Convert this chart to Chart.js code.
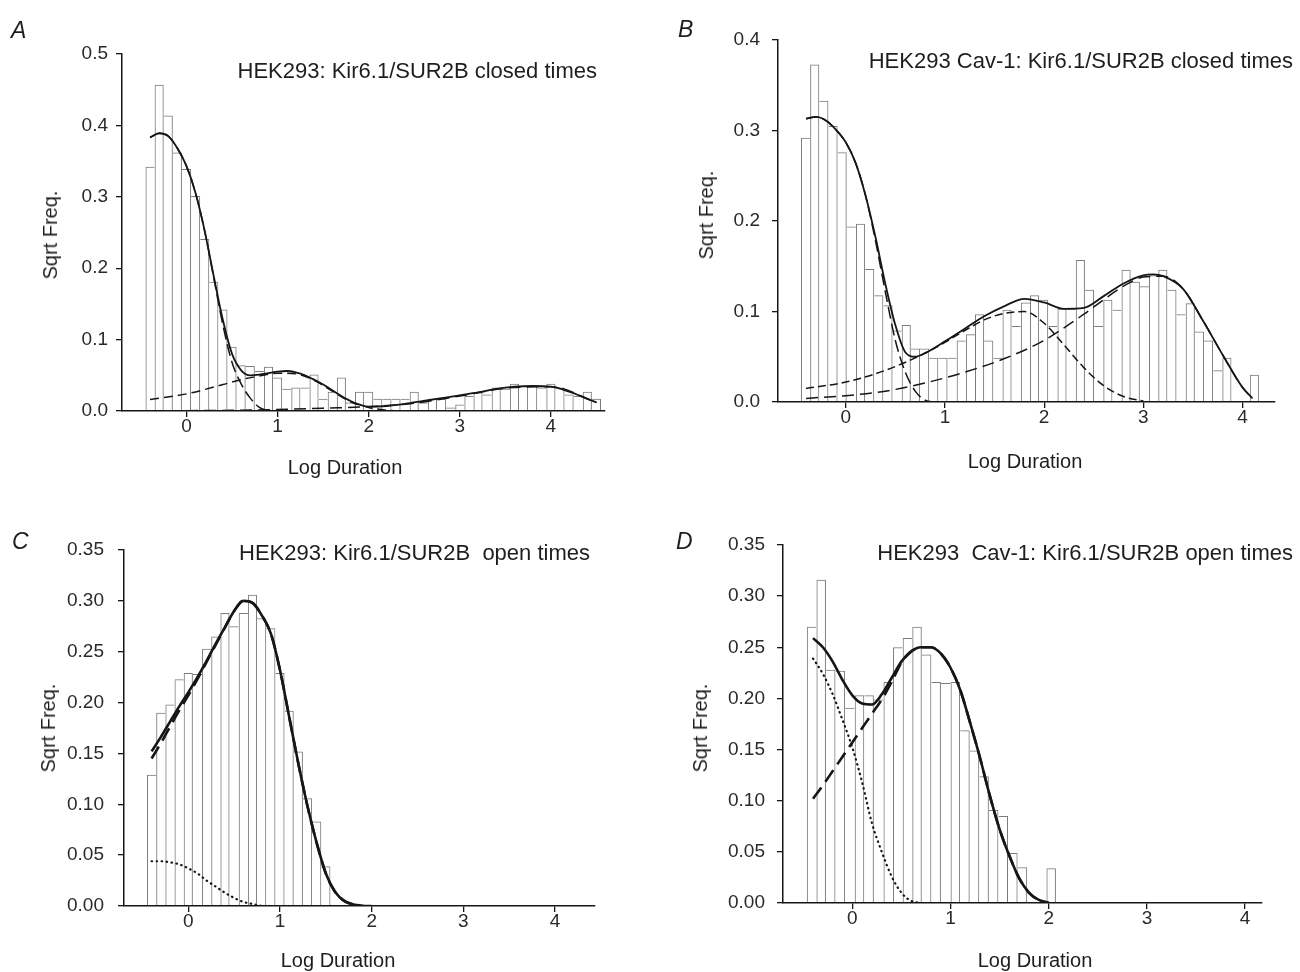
<!DOCTYPE html>
<html><head><meta charset="utf-8">
<script src="https://cdn.jsdelivr.net/npm/chart.js@4.4.0/dist/chart.umd.min.js"></script>
<style>
html,body{margin:0;padding:0;background:#fff;}
#wrap{position:relative;width:1300px;height:972px;overflow:hidden;font-family:'Liberation Sans',Arial,sans-serif;color:#1e1e1e;}
canvas{position:absolute;}
.t{position:absolute;white-space:pre;line-height:1;}
.ttl{font-size:22px;}
.ax{font-size:20px;transform:translate(-50%,-50%);}
.yl{font-size:20px;transform:translate(-50%,-50%) rotate(-90deg);}
.lt{font-size:23px;font-style:italic;}
</style></head><body><div id="wrap">
<canvas id="cA" width="650" height="480" style="left:0px;top:0px"></canvas>
<canvas id="cB" width="650" height="480" style="left:650px;top:0px"></canvas>
<canvas id="cC" width="650" height="486" style="left:0px;top:486px"></canvas>
<canvas id="cD" width="650" height="486" style="left:650px;top:486px"></canvas>

<div class="t lt" style="left:11px;top:19px">A</div>
<div class="t lt" style="left:678px;top:18px">B</div>
<div class="t lt" style="left:12px;top:530px">C</div>
<div class="t lt" style="left:676px;top:530px">D</div>

<div class="t ttl" style="right:703px;top:60px">HEK293: Kir6.1/SUR2B closed times</div>
<div class="t ttl" style="right:7px;top:50px">HEK293 Cav-1: Kir6.1/SUR2B closed times</div>
<div class="t ttl" style="right:710px;top:542px">HEK293: Kir6.1/SUR2B  open times</div>
<div class="t ttl" style="right:7px;top:542px">HEK293  Cav-1: Kir6.1/SUR2B open times</div>

<div class="t yl" style="left:50px;top:235px">Sqrt Freq.</div>
<div class="t yl" style="left:706px;top:215px">Sqrt Freq.</div>
<div class="t yl" style="left:48px;top:728px">Sqrt Freq.</div>
<div class="t yl" style="left:700px;top:728px">Sqrt Freq.</div>

<div class="t ax" style="left:345px;top:467px">Log Duration</div>
<div class="t ax" style="left:1025px;top:461px">Log Duration</div>
<div class="t ax" style="left:338px;top:960px">Log Duration</div>
<div class="t ax" style="left:1035px;top:960px">Log Duration</div>
</div>
<script>
// ---------- tick labels ----------
const xTicks = [0, 1, 2, 3, 4];
const xTickLabels = ['0', '1', '2', '3', '4'];
const yTicksA = [0, 0.1, 0.2, 0.3, 0.4, 0.5];
const yLabelsA = ['0.0', '0.1', '0.2', '0.3', '0.4', '0.5'];
const yTicksB = [0, 0.1, 0.2, 0.3, 0.4];
const yLabelsB = ['0.0', '0.1', '0.2', '0.3', '0.4'];
const yTicksCD = [0, 0.05, 0.10, 0.15, 0.20, 0.25, 0.30, 0.35];
const yLabelsCD = ['0.00', '0.05', '0.10', '0.15', '0.20', '0.25', '0.30', '0.35'];

// ---------- Panel A: closed times, HEK293 ----------
const binsA = [-0.4,-0.3,-0.2,-0.1,0.0,0.1,0.2,0.3,0.4,0.5,0.6,0.7,0.8,0.9,1.0,1.1,1.2,1.3,1.4,1.5,1.6,1.7,1.8,1.9,2.0,2.1,2.2,2.3,2.4,2.5,2.6,2.7,2.8,2.9,3.0,3.1,3.2,3.3,3.4,3.5,3.6,3.7,3.8,3.9,4.0,4.1,4.2,4.3,4.4,4.5];
const freqA = [0.342,0.457,0.414,0.362,0.339,0.301,0.241,0.181,0.142,0.090,0.064,0.063,0.056,0.062,0.047,0.031,0.033,0.033,0.051,0.017,0.027,0.047,0.012,0.027,0.027,0.017,0.017,0.017,0.017,0.027,0.012,0.017,0.017,0.005,0.009,0.021,0.026,0.023,0.033,0.031,0.038,0.035,0.035,0.033,0.038,0.033,0.023,0.021,0.027,0.017];
const fitA_x = [-0.4,-0.3,-0.2,-0.1,0,0.1,0.2,0.3,0.4,0.5,0.6,0.7,0.8,0.9,1.0,1.1,1.2,1.3,1.4,1.5,1.6,1.7,1.8,1.9,2.0,2.2,2.4,2.6,2.8,3.0,3.2,3.4,3.6,3.8,4.0,4.2,4.4,4.5];
const fitA_y = [0.383,0.389,0.385,0.368,0.343,0.305,0.252,0.188,0.127,0.080,0.057,0.050,0.051,0.053,0.055,0.056,0.054,0.050,0.044,0.037,0.029,0.021,0.014,0.009,0.006,0.007,0.010,0.014,0.018,0.022,0.026,0.031,0.034,0.035,0.034,0.027,0.017,0.012];
const compA1_x = [-0.4,-0.3,-0.2,-0.1,0,0.1,0.2,0.3,0.4,0.5,0.6,0.7,0.8,0.9];
const compA1_y = [0.383,0.389,0.385,0.368,0.343,0.305,0.252,0.186,0.120,0.068,0.038,0.018,0.005,0.0];
const compA2_x = [-0.4,0,0.4,0.6,0.8,1.0,1.2,1.4,1.6,1.8,2.0,2.2,2.4];
const compA2_y = [0.016,0.024,0.037,0.044,0.049,0.053,0.052,0.043,0.028,0.013,0.005,0.001,0.0];
const compA3_x = [-0.4,0.5,1.0,1.5,2.0,2.5,3.0,3.5,4.0,4.5];
const compA3_y = [0.0,0.001,0.002,0.004,0.006,0.011,0.021,0.032,0.034,0.012];

// ---------- Panel B: closed times, HEK293 Cav-1 ----------
const binsB = [-0.405,-0.313,-0.221,-0.128,-0.036,0.056,0.149,0.241,0.333,0.426,0.518,0.610,0.703,0.795,0.887,0.980,1.072,1.164,1.257,1.349,1.441,1.534,1.626,1.718,1.811,1.903,1.995,2.088,2.180,2.272,2.365,2.457,2.549,2.642,2.734,2.826,2.919,3.011,3.103,3.196,3.288,3.380,3.473,3.565,3.657,3.750,3.842,3.934,4.027,4.119];
const freqB = [0.292,0.373,0.333,0.305,0.276,0.194,0.197,0.147,0.118,0.107,0.079,0.085,0.059,0.059,0.049,0.049,0.049,0.068,0.075,0.097,0.068,0.049,0.102,0.084,0.110,0.118,0.113,0.084,0.103,0.103,0.157,0.124,0.084,0.113,0.102,0.146,0.133,0.128,0.140,0.146,0.124,0.097,0.109,0.078,0.068,0.035,0.049,0.0,0.0,0.030];
const fitB_x = [-0.4,-0.3,-0.2,-0.1,0,0.1,0.2,0.3,0.4,0.5,0.6,0.7,0.8,1.0,1.2,1.4,1.6,1.8,2.0,2.2,2.4,2.6,2.8,3.0,3.1,3.2,3.4,3.6,3.8,4.0,4.1];
const fitB_y = [0.313,0.315,0.311,0.301,0.287,0.264,0.228,0.182,0.130,0.085,0.055,0.050,0.054,0.067,0.081,0.095,0.106,0.114,0.110,0.103,0.104,0.117,0.131,0.140,0.141,0.139,0.125,0.090,0.052,0.016,0.004];
const compB1_x = [-0.4,-0.3,-0.2,-0.1,0,0.1,0.2,0.3,0.4,0.5,0.6,0.7,0.8,0.9];
const compB1_y = [0.313,0.315,0.311,0.301,0.287,0.264,0.228,0.178,0.121,0.068,0.033,0.012,0.002,0.0];
const compB2_x = [-0.4,0,0.4,0.8,1.0,1.2,1.4,1.6,1.8,2.0,2.2,2.4,2.6,2.8,3.0];
const compB2_y = [0.015,0.022,0.035,0.054,0.066,0.079,0.091,0.098,0.100,0.087,0.063,0.038,0.018,0.006,0.001];
const compB3_x = [-0.4,0,0.4,0.8,1.2,1.6,2.0,2.2,2.4,2.6,2.8,3.0,3.2,3.4,3.6,3.8,4.0,4.1];
const compB3_y = [0.004,0.007,0.012,0.021,0.033,0.048,0.068,0.082,0.097,0.113,0.128,0.138,0.139,0.125,0.090,0.052,0.016,0.004];

// ---------- Panel C: open times, HEK293 ----------
const binsC = [-0.4,-0.3,-0.2,-0.1,0.0,0.1,0.2,0.3,0.4,0.5,0.6,0.7,0.8,0.9,1.0,1.1,1.2,1.3,1.4,1.5];
const freqC = [0.129,0.190,0.198,0.223,0.229,0.228,0.253,0.265,0.288,0.275,0.288,0.306,0.283,0.273,0.229,0.192,0.152,0.106,0.083,0.039];
const fitC_x = [-0.4,-0.3,-0.2,-0.1,0,0.1,0.2,0.3,0.4,0.5,0.6,0.7,0.8,0.9,1.0,1.1,1.2,1.3,1.4,1.5,1.6,1.7,1.8,1.9,2.0];
const fitC_y = [0.152,0.166,0.181,0.196,0.210,0.225,0.241,0.258,0.274,0.290,0.300,0.298,0.286,0.268,0.232,0.186,0.140,0.098,0.062,0.032,0.014,0.005,0.0015,0.0003,0.0];
const compC2_x = [-0.4,-0.3,-0.2,-0.1,0,0.1,0.2,0.3,0.4,0.5,0.6,0.7,0.8,0.9,1.0,1.1,1.2,1.3,1.4,1.5,1.6,1.7,1.8];
const compC2_y = [0.145,0.160,0.176,0.192,0.207,0.223,0.240,0.257,0.274,0.290,0.300,0.298,0.286,0.268,0.232,0.186,0.140,0.098,0.062,0.032,0.014,0.005,0.0015];
const compC1_x = [-0.4,-0.3,-0.2,-0.1,0,0.1,0.2,0.3,0.4,0.5,0.6,0.7,0.8];
const compC1_y = [0.044,0.044,0.043,0.041,0.037,0.032,0.025,0.019,0.013,0.008,0.004,0.002,0.0];

// ---------- Panel D: open times, HEK293 Cav-1 ----------
const binsD = [-0.415,-0.317,-0.220,-0.122,-0.025,0.073,0.171,0.268,0.366,0.463,0.561,0.659,0.756,0.854,0.951,1.049,1.147,1.244,1.342,1.439,1.537,1.635,1.732,1.830,1.927,2.025];
const freqD = [0.270,0.316,0.228,0.227,0.191,0.203,0.203,0.199,0.216,0.250,0.259,0.270,0.243,0.216,0.215,0.216,0.169,0.149,0.124,0.091,0.085,0.049,0.035,0.0,0.0,0.034];
const fitD_x = [-0.4,-0.3,-0.2,-0.1,0,0.1,0.2,0.3,0.4,0.5,0.6,0.7,0.8,0.9,1.0,1.1,1.2,1.3,1.4,1.5,1.6,1.7,1.8,1.9,2.0];
const fitD_y = [0.259,0.250,0.236,0.218,0.203,0.195,0.194,0.204,0.220,0.236,0.246,0.250,0.250,0.244,0.230,0.208,0.176,0.142,0.105,0.072,0.046,0.024,0.010,0.003,0.0];
const compD2_x = [-0.4,-0.3,-0.2,-0.1,0,0.1,0.2,0.3,0.4,0.5,0.6,0.7,0.8,0.9,1.0,1.1,1.2,1.3,1.4,1.5,1.6,1.7,1.8,1.9,2.0];
const compD2_y = [0.102,0.115,0.129,0.143,0.157,0.171,0.185,0.199,0.216,0.235,0.246,0.250,0.250,0.244,0.230,0.208,0.176,0.142,0.105,0.072,0.046,0.024,0.010,0.003,0.0];
const compD1_x = [-0.4,-0.3,-0.2,-0.1,0,0.1,0.2,0.3,0.4,0.5,0.6,0.7];
const compD1_y = [0.239,0.224,0.204,0.179,0.152,0.118,0.078,0.050,0.026,0.010,0.002,0.0];

// ---------- drawing ----------
const FONT = "'Liberation Sans', Arial, sans-serif";
const INK = '#161616';

function edgeWidth(vals) {
  return ctx => {
    const i = ctx.dataIndex, v = vals[i];
    const p = i > 0 ? vals[i - 1] : undefined;
    const n = i < vals.length - 1 ? vals[i + 1] : undefined;
    return {top: 1, bottom: 0, left: (p === undefined || p < v) ? 1 : 0, right: (n === undefined || n <= v) ? 1 : 0};
  };
}
function pts(xs, ys) { return xs.map((x, i) => ({x: x, y: ys[i]})); }
function line(xs, ys, w, dash, cap) {
  return {type: 'line', data: pts(xs, ys), borderColor: INK, borderWidth: w, borderDash: dash || [],
    borderCapStyle: cap || 'butt', pointRadius: 0, fill: false, cubicInterpolationMode: 'monotone', order: 0};
}
function axisCommon() {
  return {
    grid: {display: true, offset: false, drawOnChartArea: false, drawTicks: true, tickLength: 6, color: INK, lineWidth: 1.3},
    border: {display: true, color: INK, width: 1.5}
  };
}
function makeChart(id, c) {
  const datasets = c.lines.slice();
  datasets.push({type: 'bar', data: pts(c.bins, c.freq), backgroundColor: 'rgba(0,0,0,0)', borderColor: '#7c7c7c',
    borderWidth: edgeWidth(c.freq), barPercentage: 1, categoryPercentage: 1, inflateAmount: 0, order: 10});
  const xa = axisCommon(), ya = axisCommon();
  new Chart(document.getElementById(id), {
    type: 'line',
    data: {datasets: datasets},
    options: {
      responsive: false, animation: false, devicePixelRatio: 1, events: [],
      layout: {padding: c.pad},
      plugins: {legend: {display: false}, tooltip: {enabled: false}, title: {display: false}},
      scales: {
        x: Object.assign(xa, {type: 'linear', min: c.xmin, max: c.xmax, offset: false,
          afterBuildTicks: s => { s.ticks = xTicks.map(v => ({value: v})); },
          afterFit: s => { s.height = c.xh; },
          ticks: {autoSkip: false, maxRotation: 0, minRotation: 0, padding: 0, color: '#2a2a2a',
            font: {family: FONT, size: 19, lineHeight: 1}, callback: (v, i) => xTickLabels[i]}}),
        y: Object.assign(ya, {type: 'linear', min: 0, max: c.ymax,
          afterBuildTicks: s => { s.ticks = c.yTicks.map(v => ({value: v})); },
          afterFit: s => { s.width = c.yw; },
          ticks: {autoSkip: false, padding: c.ypad, color: '#2a2a2a',
            font: {family: FONT, size: 19, lineHeight: 1}, callback: (v, i) => c.yLabels[i]}})
      }
    }
  });
}

makeChart('cA', {
  bins: binsA, freq: freqA, xmin: -0.708, xmax: 4.594, ymax: 0.5, yTicks: yTicksA, yLabels: yLabelsA,
  pad: {left: 0, top: 54, right: 45, bottom: 0}, yw: 122, xh: 69, ypad: 8,
  lines: [line(fitA_x, fitA_y, 1.8), line(compA1_x, compA1_y, 1.5, [12, 5]),
          line(compA2_x, compA2_y, 1.5, [9, 5]), line(compA3_x, compA3_y, 1.5, [12, 6])]
});
makeChart('cB', {
  bins: binsB, freq: freqB, xmin: -0.683, xmax: 4.327, ymax: 0.4, yTicks: yTicksB, yLabels: yLabelsB,
  pad: {left: 0, top: 40, right: 25, bottom: 0}, yw: 128, xh: 78, ypad: 12,
  lines: [line(fitB_x, fitB_y, 1.8), line(compB1_x, compB1_y, 1.5, [12, 5]),
          line(compB2_x, compB2_y, 1.5, [8, 4]), line(compB3_x, compB3_y, 1.5, [12, 6])]
});
makeChart('cC', {
  bins: binsC, freq: freqC, xmin: -0.701, xmax: 4.435, ymax: 0.35, yTicks: yTicksCD, yLabels: yLabelsCD,
  pad: {left: 0, top: 64, right: 55, bottom: 0}, yw: 124, xh: 66, ypad: 14,
  lines: [line(fitC_x, fitC_y, 2.6), line(compC2_x, compC2_y, 2.6, [14, 7]),
          line(compC1_x, compC1_y, 2.2, [0.5, 4.5], 'round')]
});
makeChart('cD', {
  bins: binsD, freq: freqD, xmin: -0.706, xmax: 4.172, ymax: 0.35, yTicks: yTicksCD, yLabels: yLabelsCD,
  pad: {left: 0, top: 59, right: 38, bottom: 0}, yw: 133, xh: 69, ypad: 12,
  lines: [line(fitD_x, fitD_y, 2.6), line(compD2_x, compD2_y, 2.6, [14, 7]),
          line(compD1_x, compD1_y, 2.2, [0.5, 4.5], 'round')]
});
</script>
</body></html>
